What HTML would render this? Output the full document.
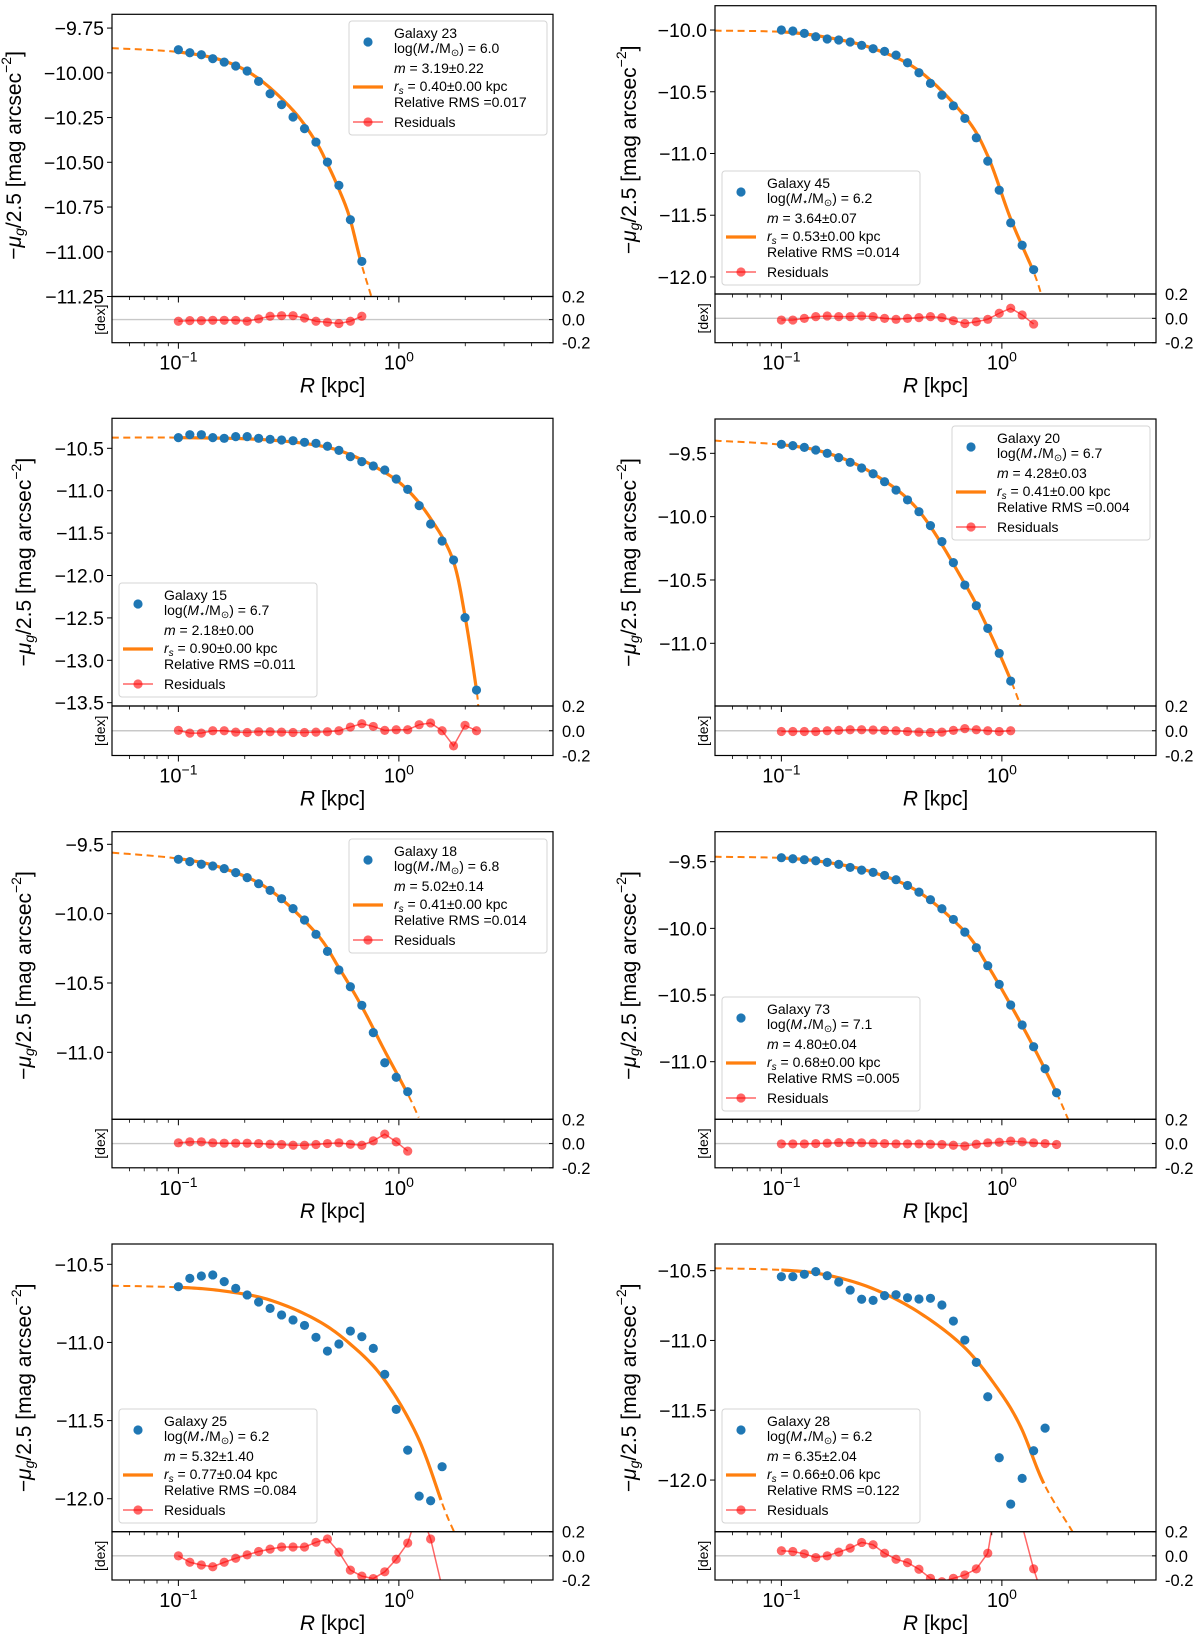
<!DOCTYPE html>
<html><head><meta charset="utf-8"><title>Galaxy surface brightness profiles</title>
<style>
html,body{margin:0;padding:0;background:#fff;}
svg{display:block;font-family:"Liberation Sans","DejaVu Sans",sans-serif;}
</style></head>
<body>
<svg id="fig" width="1200" height="1634" viewBox="0 0 1200 1634" xmlns="http://www.w3.org/2000/svg"></svg>
<script>
// ---------- data ----------
const radiiKpc = [0.1000,0.1127,0.1271,0.1432,0.1614,0.1820,0.2051,0.2312,0.2606,0.2938,0.3311,0.3733,0.4207,0.4743,0.5346,0.6026,0.6792,0.7656,0.8630,0.9727,1.0965,1.2359,1.3932,1.5704,1.7701,1.9953,2.2491];

const g23Mu = [-9.871,-9.888,-9.899,-9.921,-9.940,-9.962,-9.990,-10.048,-10.117,-10.178,-10.247,-10.312,-10.387,-10.499,-10.629,-10.821,-11.054];
const g23Res = [-0.014,-0.009,-0.009,-0.006,-0.006,-0.006,-0.014,0.006,0.029,0.034,0.034,0.014,-0.014,-0.023,-0.034,-0.014,0.029];
const g23FitLogR = [-1.302,-1.0,-0.792,-0.636,-0.48,-0.38,-0.328,-0.276,-0.224,-0.172,-0.125,-0.10];
const g23FitMu = [-9.862,-9.884,-9.934,-10.033,-10.21,-10.378,-10.499,-10.639,-10.806,-11.058,-11.25,-11.36];

const g45Mu = [-10.0,-10.008,-10.027,-10.054,-10.073,-10.081,-10.097,-10.124,-10.151,-10.173,-10.203,-10.265,-10.346,-10.432,-10.527,-10.614,-10.716,-10.873,-11.062,-11.297,-11.562,-11.743,-11.941];
const g45Res = [-0.014,-0.014,0,0.014,0.019,0.014,0.014,0.019,0.014,0,-0.008,0,0.006,0.014,0.006,-0.019,-0.042,-0.028,-0.008,0.042,0.083,0.028,-0.047];
const g45FitLogR = [-1.303,-1.0,-0.792,-0.584,-0.376,-0.168,-0.064,0.04,0.144,0.18];
const g45FitMu = [-10.005,-10.015,-10.06,-10.15,-10.33,-10.70,-11.02,-11.53,-11.96,-12.15];

const g15Mu = [-10.374,-10.339,-10.339,-10.374,-10.382,-10.362,-10.362,-10.382,-10.394,-10.402,-10.410,-10.429,-10.441,-10.476,-10.524,-10.598,-10.657,-10.708,-10.756,-10.862,-10.984,-11.176,-11.393,-11.593,-11.817,-12.497,-13.351];
const g15Res = [0.003,-0.019,-0.019,0,0,-0.011,-0.014,-0.008,-0.008,-0.011,-0.014,-0.014,-0.011,-0.008,0,0.03,0.057,0.035,0.003,0.008,0.008,0.049,0.063,0,-0.122,0.044,0];
const g15FitLogR = [-1.302,-1.0,-0.638,-0.379,-0.224,-0.07,0.032,0.138,0.243,0.30,0.352,0.36];
const g15FitMu = [-10.374,-10.374,-10.394,-10.461,-10.571,-10.775,-10.972,-11.306,-11.80,-12.48,-13.35,-13.56];

const g20Mu = [-9.429,-9.439,-9.453,-9.474,-9.5,-9.534,-9.571,-9.616,-9.661,-9.724,-9.790,-9.868,-9.961,-10.071,-10.197,-10.363,-10.540,-10.703,-10.882,-11.079,-11.298];
const g20Res = [-0.006,-0.006,-0.006,-0.006,0,0.003,0.008,0.008,0.006,0.003,0,-0.006,-0.011,-0.014,-0.011,0.003,0.017,0.008,0,-0.006,0];
const g20FitLogR = [-1.303,-1.0,-0.792,-0.584,-0.376,-0.168,-0.064,0.04,0.09];
const g20FitMu = [-9.40,-9.432,-9.498,-9.66,-9.955,-10.53,-10.88,-11.29,-11.52];

const g18Mu = [-9.608,-9.625,-9.644,-9.656,-9.675,-9.704,-9.740,-9.784,-9.832,-9.892,-9.964,-10.046,-10.149,-10.272,-10.406,-10.527,-10.661,-10.858,-11.075,-11.180,-11.284];
const g18Res = [0.006,0.014,0.014,0.006,0.003,0.003,0.003,0,-0.006,-0.008,-0.014,-0.014,-0.008,0,0.006,-0.006,-0.014,0.022,0.078,0.014,-0.062];
const g18FitLogR = [-1.3,-1.0,-0.792,-0.584,-0.376,-0.272,-0.168,-0.064,0.04,0.09];
const g18FitMu = [-9.56,-9.603,-9.675,-9.83,-10.14,-10.39,-10.67,-10.99,-11.30,-11.47];

const g73Mu = [-9.470,-9.478,-9.485,-9.493,-9.505,-9.520,-9.543,-9.563,-9.580,-9.603,-9.635,-9.678,-9.728,-9.785,-9.853,-9.933,-10.028,-10.145,-10.280,-10.420,-10.575,-10.725,-10.888,-11.053,-11.233];
const g73Res = [-0.003,-0.003,-0.003,0,0.003,0.008,0.008,0.006,0.003,0,-0.003,-0.003,-0.003,-0.006,-0.008,-0.014,-0.02,-0.006,0.006,0.011,0.02,0.014,0.006,0,-0.008];
const g73FitLogR = [-1.303,-1.0,-0.792,-0.584,-0.376,-0.168,-0.064,0.04,0.144,0.248,0.30];
const g73FitMu = [-9.463,-9.472,-9.505,-9.58,-9.728,-10.025,-10.28,-10.575,-10.89,-11.235,-11.43];

const g25Mu = [-10.643,-10.590,-10.575,-10.568,-10.611,-10.654,-10.696,-10.741,-10.782,-10.824,-10.856,-10.891,-10.967,-11.055,-11.010,-10.927,-10.963,-11.038,-11.204,-11.428,-11.689,-11.983,-12.013,-11.795];
const g25Res = [0,-0.053,-0.076,-0.09,-0.053,-0.02,0.008,0.036,0.056,0.073,0.073,0.073,0.112,0.14,0.031,-0.118,-0.168,-0.188,-0.132,-0.028,0.106,0.40,0.14,-0.26];
const g25FitLogR = [-1.302,-1.0,-0.793,-0.586,-0.379,-0.224,-0.07,0.085,0.202,0.25,0.27];
const g25FitMu = [-10.637,-10.647,-10.671,-10.728,-10.852,-11.006,-11.23,-11.603,-12.051,-12.211,-12.28];

const g28Mu = [-10.543,-10.543,-10.526,-10.507,-10.536,-10.581,-10.639,-10.705,-10.713,-10.679,-10.672,-10.694,-10.703,-10.698,-10.746,-10.861,-10.997,-11.157,-11.403,-11.840,-12.172,-11.988,-11.790,-11.628];
const g28Res = [0.042,0.036,0.017,-0.014,0,0.031,0.064,0.111,0.092,0.022,-0.028,-0.056,-0.111,-0.186,-0.214,-0.186,-0.158,-0.108,0.022,0.6,0.6,0.25,-0.108,-0.4];
const g28FitLogR = [-1.303,-1.0,-0.796,-0.588,-0.381,-0.173,-0.02,0.085,0.19,0.321,0.34];
const g28FitMu = [-10.483,-10.495,-10.531,-10.627,-10.794,-11.045,-11.343,-11.618,-12.024,-12.371,-12.42];

const ticksA = [-9.75,-10.00,-10.25,-10.50,-10.75,-11.00,-11.25];
const ticksB = [-10.0,-10.5,-11.0,-11.5,-12.0];
const ticksC = [-10.5,-11.0,-11.5,-12.0,-12.5,-13.0,-13.5];
const ticksD = [-9.5,-10.0,-10.5,-11.0];
const ticksE = [-10.5,-11.0,-11.5,-12.0];
const resTicks = [0.2,0.0,-0.2];
const resTickLabels = ['0.2','0.0','-0.2'];

const panels = [
 {id:'galaxy-23',name:'Galaxy 23',mass:'6.0',m:'3.19±0.22',rs:'0.40±0.00',rms:'0.017',x0:112,top:14.3,mb:296.5,rb:342.7,ylo:-11.25,yhi:-9.673,ticks:ticksA,dec:2,mu:g23Mu,res:g23Res,fx:g23FitLogR,fy:g23FitMu,legSide:'right',legY:21,ylx:14},
 {id:'galaxy-45',name:'Galaxy 45',mass:'6.2',m:'3.64±0.07',rs:'0.53±0.00',rms:'0.014',x0:715,top:5.7,mb:294,rb:342.7,ylo:-12.138,yhi:-9.803,ticks:ticksB,dec:1,mu:g45Mu,res:g45Res,fx:g45FitLogR,fy:g45FitMu,legSide:'left',legY:171,ylx:629},
 {id:'galaxy-15',name:'Galaxy 15',mass:'6.7',m:'2.18±0.00',rs:'0.90±0.00',rms:'0.011',x0:112,top:418.3,mb:706,rb:755.5,ylo:-13.539,yhi:-10.146,ticks:ticksC,dec:1,mu:g15Mu,res:g15Res,fx:g15FitLogR,fy:g15FitMu,legSide:'left',legY:583,ylx:24},
 {id:'galaxy-20',name:'Galaxy 20',mass:'6.7',m:'4.28±0.03',rs:'0.41±0.00',rms:'0.004',x0:715,top:419,mb:706,rb:755.5,ylo:-11.495,yhi:-9.229,ticks:ticksD,dec:1,mu:g20Mu,res:g20Res,fx:g20FitLogR,fy:g20FitMu,legSide:'right',legY:426,ylx:629},
 {id:'galaxy-18',name:'Galaxy 18',mass:'6.8',m:'5.02±0.14',rs:'0.41±0.00',rms:'0.014',x0:112,top:831.7,mb:1119.3,rb:1167.8,ylo:-11.483,yhi:-9.409,ticks:ticksD,dec:1,mu:g18Mu,res:g18Res,fx:g18FitLogR,fy:g18FitMu,legSide:'right',legY:839,ylx:24},
 {id:'galaxy-73',name:'Galaxy 73',mass:'7.1',m:'4.80±0.04',rs:'0.68±0.00',rms:'0.005',x0:715,top:831.7,mb:1119.3,rb:1167.8,ylo:-11.432,yhi:-9.275,ticks:ticksD,dec:1,mu:g73Mu,res:g73Res,fx:g73FitLogR,fy:g73FitMu,legSide:'left',legY:997,ylx:629},
 {id:'galaxy-25',name:'Galaxy 25',mass:'6.2',m:'5.32±1.40',rs:'0.77±0.04',rms:'0.084',x0:112,top:1244,mb:1531.7,rb:1580,ylo:-12.211,yhi:-10.37,ticks:ticksE,dec:1,mu:g25Mu,res:g25Res,fx:g25FitLogR,fy:g25FitMu,legSide:'left',legY:1409,ylx:24},
 {id:'galaxy-28',name:'Galaxy 28',mass:'6.2',m:'6.35±2.04',rs:'0.66±0.06',rms:'0.122',x0:715,top:1244,mb:1531.7,rb:1580,ylo:-12.37,yhi:-10.309,ticks:ticksE,dec:1,mu:g28Mu,res:g28Res,fx:g28FitLogR,fy:g28FitMu,legSide:'left',legY:1409,ylx:629}
];

// ---------- drawing ----------
const NS = 'http://www.w3.org/2000/svg';
const svg = document.getElementById('fig');
const W = 441, LMIN = Math.log10(0.05), LMAX = Math.log10(5);
const BLUE = '#1f77b4', ORANGE = '#ff7f0e', RED = '#ff0000';
function mk(tag, attrs, parent){
  const e = document.createElementNS(NS, tag);
  for (const k in attrs) e.setAttribute(k, attrs[k]);
  (parent||svg).appendChild(e);
  return e;
}
function fmt(v, d){ return (v<0?'\u2212':'') + Math.abs(v).toFixed(d); }
function catmull(pts, n){
  const out = [];
  for (let i=0;i<pts.length-1;i++){
    const p0=pts[Math.max(i-1,0)], p1=pts[i], p2=pts[i+1], p3=pts[Math.min(i+2,pts.length-1)];
    for (let s=0;s<n;s++){
      const t=s/n, t2=t*t, t3=t2*t;
      const f=(a,b,c,d)=>0.5*((2*b)+(-a+c)*t+(2*a-5*b+4*c-d)*t2+(-a+3*b-3*c+d)*t3);
      out.push([f(p0[0],p1[0],p2[0],p3[0]), f(p0[1],p1[1],p2[1],p3[1])]);
    }
  }
  out.push(pts[pts.length-1]);
  return out;
}

panels.forEach((p, pi) => {
  const g = mk('g', {});
  
  
  const x0 = p.x0, x1 = p.x0 + W;
  const xs = r => x0 + (Math.log10(r) - LMIN) / (LMAX - LMIN) * W;
  const xl = l => x0 + (l - LMIN) / (LMAX - LMIN) * W;
  const ys = v => p.top + (p.yhi - v) / (p.yhi - p.ylo) * (p.mb - p.top);
  const rmid = (p.mb + p.rb) / 2, rh = (p.rb - p.mb) / 2;
  const ry = v => rmid - v / 0.2 * rh;

  const defs = mk('defs', {}, g);
  const cpM = mk('clipPath', {id:'cm'+pi}, defs);
  mk('rect', {x:x0, y:p.top, width:W, height:p.mb-p.top}, cpM);
  const cpR = mk('clipPath', {id:'cr'+pi}, defs);
  mk('rect', {x:x0, y:p.mb, width:W, height:p.rb-p.mb}, cpR);

  const zl = mk('line', {x1:x0, x2:x1, y1:ry(0), y2:ry(0), stroke:'#c8c8c8', 'stroke-width':1.4}, g);
  
  

  const pts = catmull(p.fx.map((l,i)=>[l, p.fy[i]]), 16);
  const lo = Math.log10(radiiKpc[0]), hi = Math.log10(radiiKpc[p.mu.length-1]);
  const seg = {pre:[], mid:[], post:[]};
  pts.forEach(q => {
    const P = [xl(q[0]).toFixed(2), ys(q[1]).toFixed(2)].join(',');
    if (q[0] <= lo) seg.pre.push(P);
    if (q[0] >= lo && q[0] <= hi) seg.mid.push(P);
    if (q[0] >= hi) seg.post.push(P);
  });
  const fg = mk('g', {'clip-path':'url(#cm'+pi+')'}, g);
  
  
  ['pre','post'].forEach(k => {
    if (seg[k].length > 1) {
      const d = mk('polyline', {points:seg[k].join(' '), fill:'none', stroke:ORANGE, 'stroke-width':2, 'stroke-dasharray':'7,4.5'}, fg);
      
      
    }
  });
  const sl = mk('polyline', {points:seg.mid.join(' '), fill:'none', stroke:ORANGE, 'stroke-width':3.2, 'stroke-linejoin':'round'}, fg);
  
  

  const dg = mk('g', {'clip-path':'url(#cm'+pi+')'}, g);
  
  
  p.mu.forEach((v,i) => {
    const c = mk('circle', {cx:xs(radiiKpc[i]), cy:ys(v), r:4.6, fill:BLUE}, dg);
    
    
  });

  const rg = mk('g', {'clip-path':'url(#cr'+pi+')'}, g);
  
  
  const rl = mk('polyline', {points:p.res.map((v,i)=>xs(radiiKpc[i]).toFixed(2)+','+ry(v).toFixed(2)).join(' '), fill:'none', stroke:RED, 'stroke-opacity':0.6, 'stroke-width':1.5}, rg);
  
  
  p.res.forEach((v,i) => {
    const c = mk('circle', {cx:xs(radiiKpc[i]), cy:ry(v), r:4.6, fill:RED, 'fill-opacity':0.6}, rg);
    
    
  });

  const fm = mk('rect', {x:x0, y:p.top, width:W, height:p.mb-p.top, fill:'none', stroke:'#000', 'stroke-width':1.2}, g);
  
  
  const fr = mk('rect', {x:x0, y:p.mb, width:W, height:p.rb-p.mb, fill:'none', stroke:'#000', 'stroke-width':1.2}, g);
  
  

  p.ticks.forEach(t => {
    const y = ys(t);
    mk('line', {x1:x0-5, x2:x0, y1:y, y2:y, stroke:'#000', 'stroke-width':1}, g);
    const tl = mk('text', {x:x0-8, y:y+7, 'text-anchor':'end', 'font-size':19.5, fill:'#000'}, g);
    tl.textContent = fmt(t, p.dec);
    
    
  });
  resTicks.forEach((t,i) => {
    const y = ry(t);
    mk('line', {x1:x1-4, x2:x1, y1:y, y2:y, stroke:'#000', 'stroke-width':1}, g);
    const tl = mk('text', {x:x1+9, y:y+6, 'text-anchor':'start', 'font-size':16.5, fill:'#000'}, g);
    tl.textContent = resTickLabels[i];
    
    
  });

  const majors = [0.1, 1];
  const minors = [0.06,0.07,0.08,0.09,0.2,0.3,0.4,0.5,0.6,0.7,0.8,0.9,2,3,4];
  majors.forEach(r => {
    const x = xs(r);
    mk('line', {x1:x, x2:x, y1:p.rb, y2:p.rb+6, stroke:'#000', 'stroke-width':1}, g);
    mk('line', {x1:x, x2:x, y1:p.mb, y2:p.mb+6, stroke:'#000', 'stroke-width':1}, g);
    const tl = mk('text', {x:x, y:p.rb+27, 'text-anchor':'middle', 'font-size':20, fill:'#000'}, g);
    tl.innerHTML = '10<tspan font-size="14" dy="-8">' + (r===1?'0':'\u22121') + '</tspan>';
    
    
  });
  minors.forEach(r => {
    const x = xs(r);
    mk('line', {x1:x, x2:x, y1:p.rb, y2:p.rb+3.5, stroke:'#000', 'stroke-width':0.8}, g);
    mk('line', {x1:x, x2:x, y1:p.mb, y2:p.mb+3.5, stroke:'#000', 'stroke-width':0.8}, g);
  });

  const xlab = mk('text', {x:x0+W/2, y:p.rb+50, 'text-anchor':'middle', 'font-size':21, fill:'#000'}, g);
  xlab.innerHTML = '<tspan font-style="italic">R</tspan> [kpc]';
  
  
  const ycx = p.ylx, ycy = (p.top + p.mb) / 2;
  const ylab = mk('text', {x:ycx, y:ycy, transform:'rotate(-90 '+ycx+' '+ycy+')', 'text-anchor':'middle', 'dominant-baseline':'central', 'font-size':21, fill:'#000'}, g);
  ylab.innerHTML = '\u2212<tspan font-style="italic">\u03bc</tspan><tspan font-style="italic" font-size="14" dy="5">g</tspan><tspan dy="-5">/2.5 [mag arcsec</tspan><tspan font-size="14" dy="-8">\u22122</tspan><tspan dy="8">]</tspan>';
  
  
  const dcy = (p.mb + p.rb) / 2, dcx = x0 - 12;
  const dex = mk('text', {x:dcx, y:dcy, transform:'rotate(-90 '+dcx+' '+dcy+')', 'text-anchor':'middle', 'dominant-baseline':'central', 'font-size':14, fill:'#000'}, g);
  dex.textContent = '[dex]';
  
  

  const lw = 198, lh = 114;
  const lx = p.legSide === 'right' ? x1 - 6 - lw : x0 + 7;
  const ly = p.legY;
  const lg = mk('g', {}, g);
  
  
  mk('rect', {x:lx, y:ly, width:lw, height:lh, rx:3, fill:'#fff', 'fill-opacity':0.8, stroke:'#d4d4d4', 'stroke-width':1}, lg);
  const ld = mk('circle', {cx:lx+19, cy:ly+21, r:4.6, fill:BLUE}, lg);
  
  
  const lo2 = mk('line', {x1:lx+4, x2:lx+34, y1:ly+66, y2:ly+66, stroke:ORANGE, 'stroke-width':3.2}, lg);
  
  
  mk('line', {x1:lx+4, x2:lx+34, y1:ly+101, y2:ly+101, stroke:RED, 'stroke-opacity':0.6, 'stroke-width':1.5}, lg);
  const lr = mk('circle', {cx:lx+19, cy:ly+101, r:4.6, fill:RED, 'fill-opacity':0.6}, lg);
  
  
  const lines = [
    [17, p.name],
    [32, 'log(<tspan font-style="italic">M</tspan><tspan font-size="10" dy="2">\u22c6</tspan><tspan dy="-2">/M</tspan><tspan font-size="10" dy="3">\u2299</tspan><tspan dy="-3">) = ' + p.mass + '</tspan>'],
    [52, '<tspan font-style="italic">m</tspan> = ' + p.m],
    [70, '<tspan font-style="italic">r</tspan><tspan font-style="italic" font-size="10" dy="3">s</tspan><tspan dy="-3"> = ' + p.rs + ' kpc</tspan>'],
    [86, 'Relative RMS =' + p.rms],
    [106, 'Residuals']
  ];
  lines.forEach(([dy, html]) => {
    const t = mk('text', {x:lx+45, y:ly+dy, 'font-size':14, fill:'#000'}, lg);
    t.innerHTML = html;
    
    
  });
});
</script>
</body></html>
